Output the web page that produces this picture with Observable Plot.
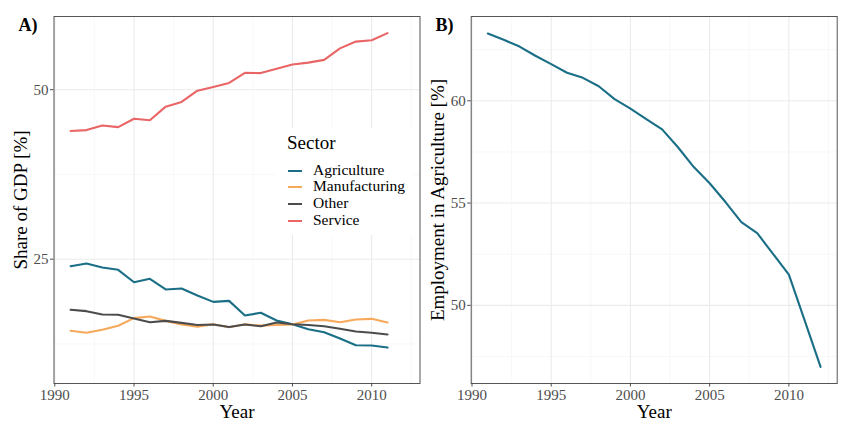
<!DOCTYPE html>
<html>
<head>
<meta charset="utf-8">
<script src="https://cdn.jsdelivr.net/npm/d3@7"></script>
<script src="https://cdn.jsdelivr.net/npm/@observablehq/plot@0.6"></script>
<style>
  html, body { margin: 0; padding: 0; background: #fff; }
  #wrap { position: relative; width: 852px; height: 429px; display: flex; font-family: "Liberation Serif", serif; }
  #legend { position: absolute; left: 275px; top: 128px; width: 137px; height: 107px; background: #fff; }
  .ltitle { position: absolute; left: 12px; top: 3px; font-size: 19px; line-height: 24px; color: #000; }
  .litem { position: absolute; left: 13px; height: 16px; }
  .litem .key { position: absolute; left: 0; top: 7px; width: 14px; height: 2px; }
  .litem .lab { position: absolute; left: 25px; top: -2px; font-size: 15.5px; line-height: 18px; color: #000; white-space: nowrap; }
</style>
</head>
<body>
<div id="wrap"></div>
<script>
const years = d3.range(1991, 2012);
const sectors = ["Agriculture", "Manufacturing", "Other", "Service"];
const colors = ["#1a6f86", "#f6a95b", "#4c4c4c", "#ea6565"];
const agriculture = [23.97, 24.37, 23.78, 23.43, 21.6, 22.1, 20.53, 20.68, 19.64, 18.7, 18.85, 16.7, 17.09, 15.95, 15.4, 14.67, 14.23, 13.3, 12.3, 12.26, 11.96];
const manufacturing = [14.43, 14.14, 14.58, 15.17, 16.3, 16.54, 15.9, 15.36, 15.02, 15.4, 14.97, 15.4, 15.2, 15.3, 15.36, 15.95, 16.05, 15.7, 16.1, 16.2, 15.66];
const other = [17.53, 17.33, 16.84, 16.8, 16.25, 15.7, 15.9, 15.6, 15.3, 15.36, 15.0, 15.36, 15.1, 15.66, 15.4, 15.3, 15.1, 14.73, 14.33, 14.14, 13.9];
const service = [43.9, 44.04, 44.73, 44.48, 45.72, 45.5, 47.5, 48.2, 49.85, 50.4, 51.0, 52.5, 52.45, 53.1, 53.73, 54.0, 54.4, 56.1, 57.1, 57.3, 58.35];

const empYears = d3.range(1991, 2013);
const employment = [63.29, 62.98, 62.65, 62.2, 61.79, 61.37, 61.12, 60.71, 60.08, 59.62, 59.1, 58.6, 57.73, 56.76, 55.97, 55.05, 54.07, 53.53, 52.52, 51.5, 49.25, 46.99];

const xTicks = [1990, 1995, 2000, 2005, 2010];
const xMinor = [1992.5, 1997.5, 2002.5, 2007.5, 2012.5];
const yTicksA = [25, 50];
const yMinorA = [12.5, 37.5];
const yTicksB = [50, 55, 60];
const yMinorB = [47.5, 52.5, 57.5, 62.5];

const seriesArrays = [agriculture, manufacturing, other, service];
const gdp = sectors.flatMap((s, i) => years.map((y, j) => ({year: y, value: seriesArrays[i][j], sector: s})));
const emp = empYears.map((y, j) => ({year: y, value: employment[j]}));

const font = "Liberation Serif, serif";

function gridMarks(yMajor, yMinor) {
  return [
    Plot.ruleX(xMinor, {stroke: "#f3f3f3", strokeWidth: 0.6}),
    Plot.ruleY(yMinor, {stroke: "#f3f3f3", strokeWidth: 0.6}),
    Plot.ruleX(xTicks, {stroke: "#ebebeb", strokeWidth: 1.1}),
    Plot.ruleY(yMajor, {stroke: "#ebebeb", strokeWidth: 1.1})
  ];
}

function axes(yTicks) {
  return [
    Plot.axisX({ticks: xTicks, tickFormat: d => String(d), tickSize: 3.5, tickPadding: 2, fontSize: 15, color: "#4d4d4d", label: null}),
    Plot.axisY({ticks: yTicks, tickSize: 3.5, tickPadding: 2, fontSize: 15, color: "#4d4d4d", label: null})
  ];
}

const plotA = Plot.plot({
  width: 425, height: 429,
  marginLeft: 53.5, marginRight: 5.5, marginTop: 16, marginBottom: 46,
  style: {fontFamily: font, background: "#fff"},
  x: {domain: [1989.95, 2013.05]},
  y: {domain: [6.66, 60.8]},
  color: {domain: sectors, range: colors},
  marks: [
    ...gridMarks(yTicksA, yMinorA),
    Plot.line(gdp, {x: "year", y: "value", z: "sector", stroke: "sector", strokeWidth: 2.1}),
    Plot.frame({stroke: "#555", strokeWidth: 1}),
    ...axes(yTicksA),
    Plot.text(["Share of GDP [%]"], {frameAnchor: "left", rotate: -90, dx: -33.5, textAnchor: "middle", lineAnchor: "middle", fontSize: 19, fill: "#000"}),
    Plot.text(["Year"], {frameAnchor: "bottom", dy: 28.5, textAnchor: "middle", lineAnchor: "middle", fontSize: 19, fill: "#000"}),
    Plot.text(["A)"], {frameAnchor: "top-left", dx: -35.5, dy: 9, textAnchor: "start", lineAnchor: "middle", fontSize: 18, fontWeight: "bold", fill: "#000"})
  ]
});

const plotB = Plot.plot({
  width: 427, height: 429,
  marginLeft: 45.7, marginRight: 15.3, marginTop: 16, marginBottom: 46,
  style: {fontFamily: font, background: "#fff"},
  x: {domain: [1989.95, 2013.05]},
  y: {domain: [46.18, 64.12]},
  marks: [
    ...gridMarks(yTicksB, yMinorB),
    Plot.line(emp, {x: "year", y: "value", stroke: colors[0], strokeWidth: 2.1}),
    Plot.frame({stroke: "#555", strokeWidth: 1}),
    ...axes(yTicksB),
    Plot.text(["Employment in Agriculture [%]"], {frameAnchor: "left", rotate: -90, dx: -33.7, textAnchor: "middle", lineAnchor: "middle", fontSize: 19, fill: "#000"}),
    Plot.text(["Year"], {frameAnchor: "bottom", dy: 28.5, textAnchor: "middle", lineAnchor: "middle", fontSize: 19, fill: "#000"}),
    Plot.text(["B)"], {frameAnchor: "top-left", dx: -35.7, dy: 9, textAnchor: "start", lineAnchor: "middle", fontSize: 18, fontWeight: "bold", fill: "#000"})
  ]
});

const wrap = document.getElementById("wrap");
wrap.appendChild(plotA);
wrap.appendChild(plotB);

const legend = document.createElement("div");
legend.id = "legend";
const t = document.createElement("div");
t.className = "ltitle";
t.textContent = "Sector";
legend.appendChild(t);
sectors.forEach((s, i) => {
  const item = document.createElement("div");
  item.className = "litem";
  item.style.top = (34.5 + i * 16.9) + "px";
  const k = document.createElement("div");
  k.className = "key";
  k.style.background = colors[i];
  const l = document.createElement("div");
  l.className = "lab";
  l.textContent = s;
  item.appendChild(k);
  item.appendChild(l);
  legend.appendChild(item);
});
wrap.appendChild(legend);
</script>
</body>
</html>
